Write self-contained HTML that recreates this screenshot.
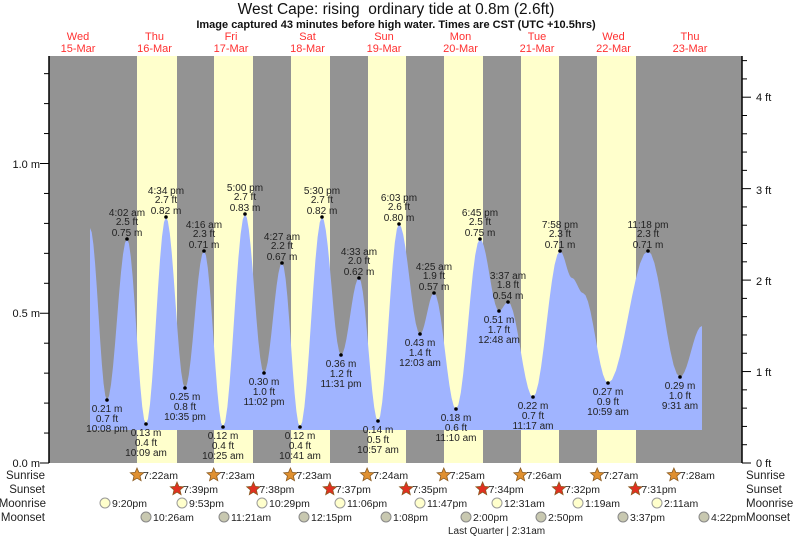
<!DOCTYPE html>
<html><head><meta charset="utf-8"><style>
body{margin:0;background:#fff;}
svg{display:block;font-family:"Liberation Sans",sans-serif;}
</style></head><body>
<svg id="s" width="793" height="537" viewBox="0 0 793 537" xmlns="http://www.w3.org/2000/svg">
<rect x="0" y="0" width="793" height="537" fill="#fff"/>
<text x="396" y="14" font-size="15.5" text-anchor="middle" fill="#111">West Cape: rising&#160; ordinary tide at 0.8m (2.6ft)</text>
<text x="396" y="28" font-size="11" font-weight="bold" text-anchor="middle" fill="#111">Image captured 43 minutes before high water. Times are CST (UTC +10.5hrs)</text>
<g id="days" font-size="11" fill="#ff3030" text-anchor="middle"></g>
<rect x="49" y="56" width="693" height="407" fill="#939393"/>
<g id="bands" fill="#ffffcc"></g>
<path id="tide" fill="#a0b4ff"/>
<g id="lbl" font-size="10" fill="#222" text-anchor="middle"></g>
<g stroke="#000" stroke-width="1.5"><line x1="49" y1="56" x2="49" y2="463"/><line x1="742" y1="56" x2="742" y2="463"/></g>
<g id="ticks" stroke="#000" stroke-width="1"></g>
<g font-size="11" fill="#111">
<text x="40" y="168" text-anchor="end">1.0 m</text>
<text x="40" y="317" text-anchor="end">0.5 m</text>
<text x="40" y="467" text-anchor="end">0.0 m</text>
<text x="756" y="101">4 ft</text><text x="756" y="194">3 ft</text><text x="756" y="285">2 ft</text><text x="756" y="376">1 ft</text><text x="756" y="467">0 ft</text>
</g>
<g font-size="11.5" fill="#222">
<text x="45" y="479" text-anchor="end">Sunrise</text><text x="45" y="493" text-anchor="end">Sunset</text><text x="46" y="507" text-anchor="end">Moonrise</text><text x="45" y="521" text-anchor="end">Moonset</text>
<text x="746" y="479">Sunrise</text><text x="746" y="493">Sunset</text><text x="746" y="507">Moonrise</text><text x="746" y="521">Moonset</text>
</g>
<g id="ev" font-size="10.5" fill="#222"></g>
<text x="448" y="534" font-size="10" fill="#222">Last Quarter | 2:31am</text>
</svg>
<script>
const NS="http://www.w3.org/2000/svg";
function el(p,t,a,txt){const e=document.createElementNS(NS,t);for(const k in a)e.setAttribute(k,a[k]);if(txt!=null)e.textContent=txt;document.getElementById(p).appendChild(e);return e;}
const dn=[["Wed","15-Mar"],["Thu","16-Mar"],["Fri","17-Mar"],["Sat","18-Mar"],["Sun","19-Mar"],["Mon","20-Mar"],["Tue","21-Mar"],["Wed","22-Mar"],["Thu","23-Mar"]];
dn.forEach((d,i)=>{const x=78+i*76.5;el("days","text",{x:x,y:40},d[0]);el("days","text",{x:x,y:52},d[1]);});
[[137,177],[214,253],[291,330],[368,406],[444,483],[521,559],[597,636]].forEach(b=>el("bands","rect",{x:b[0],y:56,width:b[1]-b[0],height:407}));
const P=[[90,228],[107,400],[127,239],[146,424],[166,217],[185,388],[204,251],[223,427],[245,214],[264,373],[282,263],[300,427],[322,217],[341,355],[359,278],[378,421],[399,224],[420,334],[434,293],[456,409],[480,239],[499,311],[508,302],[533,397],[560,251],[572,278],[583,293],[608,383],[648,251],[680,377],[702,326]];
let d="M90,430 L90,228";
for(let i=0;i<P.length-1;i++){const a=P[i],b=P[i+1];for(let t=1;t<=10;t++){const f=t/10;const x=a[0]+(b[0]-a[0])*f;const y=a[1]+(b[1]-a[1])*(1-Math.cos(Math.PI*f))/2;d+=" L"+x.toFixed(1)+","+y.toFixed(1);}}
d+=" L702,430 Z";document.getElementById("tide").setAttribute("d",d);
const H=[[127,239,"4:02 am","2.5","0.75"],[166,217,"4:34 pm","2.7","0.82"],[204,251,"4:16 am","2.3","0.71"],[245,214,"5:00 pm","2.7","0.83"],[282,263,"4:27 am","2.2","0.67"],[322,217,"5:30 pm","2.7","0.82"],[359,278,"4:33 am","2.0","0.62"],[399,224,"6:03 pm","2.6","0.80"],[434,293,"4:25 am","1.9","0.57"],[480,239,"6:45 pm","2.5","0.75"],[508,302,"3:37 am","1.8","0.54"],[560,251,"7:58 pm","2.3","0.71"],[648,251,"11:18 pm","2.3","0.71"]];
const L=[[107,400,"0.21","0.7","10:08 pm"],[146,424,"0.13","0.4","10:09 am"],[185,388,"0.25","0.8","10:35 pm"],[223,427,"0.12","0.4","10:25 am"],[264,373,"0.30","1.0","11:02 pm"],[300,427,"0.12","0.4","10:41 am"],[341,355,"0.36","1.2","11:31 pm"],[378,421,"0.14","0.5","10:57 am"],[420,334,"0.43","1.4","12:03 am"],[456,409,"0.18","0.6","11:10 am"],[499,311,"0.51","1.7","12:48 am"],[533,397,"0.22","0.7","11:17 am"],[608,383,"0.27","0.9","10:59 am"],[680,377,"0.29","1.0","9:31 am"]];
H.forEach(h=>{el("lbl","circle",{cx:h[0],cy:h[1],r:1.8,fill:"#000"});el("lbl","text",{x:h[0],y:h[1]-23},h[2]);el("lbl","text",{x:h[0],y:h[1]-14},h[3]+" ft");el("lbl","text",{x:h[0],y:h[1]-3},h[4]+" m");});
L.forEach(h=>{el("lbl","circle",{cx:h[0],cy:h[1],r:1.8,fill:"#000"});el("lbl","text",{x:h[0],y:h[1]+12},h[2]+" m");el("lbl","text",{x:h[0],y:h[1]+22},h[3]+" ft");el("lbl","text",{x:h[0],y:h[1]+32},h[4]);});
for(let i=0;i<=13;i++){const y=463-i*29.95;el("ticks","line",{x1:i%5==0?40:44,y1:y,x2:49,y2:y});}
for(let i=0;i<=24;i++){const y=463-i*18.29;if(y<56)break;el("ticks","line",{x1:742,y1:y,x2:i%5==0?751:747,y2:y});}
function star(cx,cy,fill){let p="";for(let i=0;i<10;i++){const r=i%2?3.2:7;const a=-Math.PI/2+i*Math.PI/5;p+=(cx+r*Math.cos(a)).toFixed(1)+","+(cy+r*Math.sin(a)).toFixed(1)+" ";}el("ev","polygon",{points:p,fill:fill,stroke:"#8a5a20","stroke-width":0.8});}
const sr=["7:22am","7:23am","7:23am","7:24am","7:25am","7:26am","7:27am","7:28am"];
sr.forEach((t,i)=>{const x=137+i*76.7;star(x,475,"#e09030");el("ev","text",{x:x+6,y:479},t);});
const ss=["7:39pm","7:38pm","7:37pm","7:35pm","7:34pm","7:32pm","7:31pm"];
ss.forEach((t,i)=>{const x=177+i*76.4;star(x,489,"#e03020");el("ev","text",{x:x+6,y:493},t);});
const mrx=[105,182,262,340,420,497,578,657],mr=["9:20pm","9:53pm","10:29pm","11:06pm","11:47pm","12:31am","1:19am","2:11am"];
mr.forEach((t,i)=>{el("ev","circle",{cx:mrx[i],cy:503,r:5,fill:"#ffffcc",stroke:"#999"});el("ev","text",{x:mrx[i]+7,y:507},t);});
const msx=[146,224,304,386,466,541,623,704],ms=["10:26am","11:21am","12:15pm","1:08pm","2:00pm","2:50pm","3:37pm","4:22pm"];
ms.forEach((t,i)=>{el("ev","circle",{cx:msx[i],cy:517,r:5,fill:"#c8c8b0",stroke:"#888"});el("ev","text",{x:msx[i]+7,y:521},t);});
</script>
</body></html>
